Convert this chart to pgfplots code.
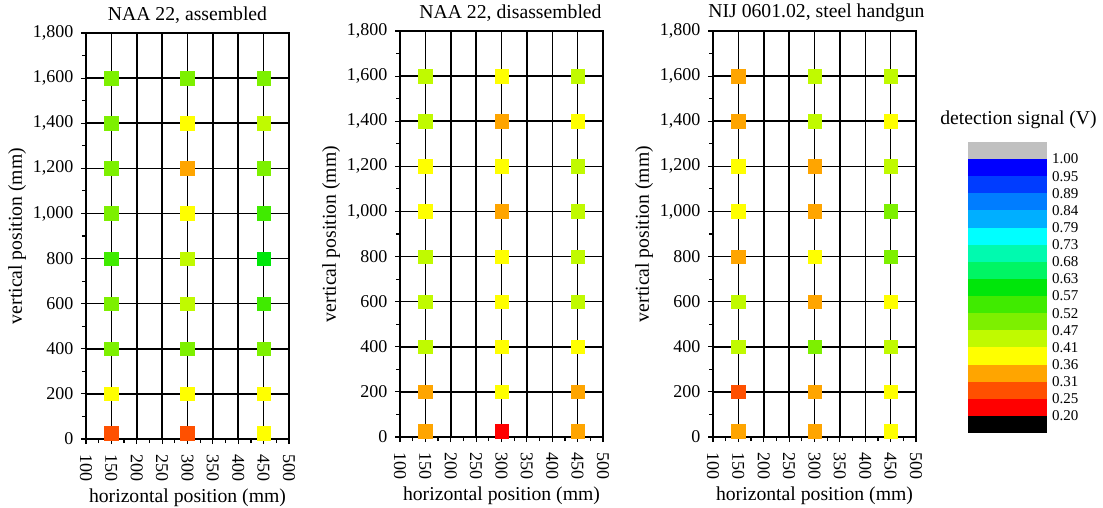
\documentclass[border=0pt]{standalone}
\usepackage{pgfplots}
\pgfplotsset{compat=1.18}
\usepackage{pgfplotstable}
\usepackage{fontspec}
\setmainfont{Liberation Serif}

\definecolor{cBK}{RGB}{0,0,0}
\definecolor{cRD}{RGB}{255,0,0}
\definecolor{cRO}{RGB}{255,80,0}
\definecolor{cOR}{RGB}{255,165,0}
\definecolor{cYE}{RGB}{255,255,0}
\definecolor{cGa}{RGB}{192,250,0}
\definecolor{cGb}{RGB}{125,240,0}
\definecolor{cGc}{RGB}{64,235,0}
\definecolor{cGd}{RGB}{0,230,10}
\definecolor{cGe}{RGB}{0,245,100}
\definecolor{cGf}{RGB}{0,250,175}
\definecolor{cCY}{RGB}{0,255,255}
\definecolor{cBa}{RGB}{0,175,255}
\definecolor{cBb}{RGB}{0,125,255}
\definecolor{cBc}{RGB}{0,60,255}
\definecolor{cBd}{RGB}{0,0,255}
\definecolor{cGY}{RGB}{192,192,192}

\newcommand{\tfont}{\fontsize{18}{20}\selectfont}
\newcommand{\lfont}{\fontsize{19.7}{22}\selectfont}

\pgfplotstableread{
x y c
150 1600 Gb
150 1400 Gb
150 1200 Gb
150 1000 Gb
150 800 Gc
150 600 Gb
150 400 Gb
150 200 YE
150 25 RO
300 1600 Gb
300 1400 YE
300 1200 OR
300 1000 YE
300 800 Ga
300 600 Ga
300 400 Gb
300 200 YE
300 25 RO
450 1600 Gb
450 1400 Ga
450 1200 Gb
450 1000 Gc
450 800 Gd
450 600 Gc
450 400 Gb
450 200 YE
450 25 YE
}\dataA

\pgfplotstableread{
x y c
150 1600 Ga
150 1400 Ga
150 1200 YE
150 1000 YE
150 800 Ga
150 600 Ga
150 400 Ga
150 200 OR
150 25 OR
300 1600 YE
300 1400 OR
300 1200 YE
300 1000 OR
300 800 YE
300 600 YE
300 400 YE
300 200 YE
300 25 RD
450 1600 Ga
450 1400 YE
450 1200 Ga
450 1000 Ga
450 800 Ga
450 600 Ga
450 400 YE
450 200 OR
450 25 OR
}\dataB

\pgfplotstableread{
x y c
150 1600 OR
150 1400 OR
150 1200 YE
150 1000 YE
150 800 OR
150 600 Ga
150 400 Ga
150 200 RO
150 25 OR
300 1600 Ga
300 1400 Ga
300 1200 OR
300 1000 OR
300 800 YE
300 600 OR
300 400 Gb
300 200 OR
300 25 OR
450 1600 Ga
450 1400 YE
450 1200 Ga
450 1000 Gb
450 800 Gb
450 600 YE
450 400 Ga
450 200 YE
450 25 YE
}\dataC

\pgfplotsset{
  panel/.style={
    scale only axis, width=203pt, height=406pt, anchor=south west,
    xmin=100, xmax=500, ymin=0, ymax=1800,
    xtick={100,150,...,500}, ytick={0,200,...,1800},
    minor x tick num=1, minor y tick num=1,
    tick pos=left, tick align=outside,
    major tick length=5pt, minor tick length=4pt,
    grid=major, major grid style={black, line width=1.5pt},
    axis line style={black, line width=1.6pt},
    tick style={black, line width=1.2pt},
    axis on top,
    xticklabel style={yshift=-7pt, rotate=-90, anchor=west},
    yticklabel style={xshift=-4pt},
    tick label style={font=\tfont},
    label style={font=\lfont},
    title style={font=\lfont},
    xlabel={horizontal position (mm)},
    ylabel={vertical position (mm)},
    /pgf/number format/assume math mode=true,
    /pgf/number format/1000 sep={,},
    scatter/classes={
      RD={mark=square*, fill=cRD, draw=cRD},
      RO={mark=square*, fill=cRO, draw=cRO},
      OR={mark=square*, fill=cOR, draw=cOR},
      YE={mark=square*, fill=cYE, draw=cYE},
      Ga={mark=square*, fill=cGa, draw=cGa},
      Gb={mark=square*, fill=cGb, draw=cGb},
      Gc={mark=square*, fill=cGc, draw=cGc},
      Gd={mark=square*, fill=cGd, draw=cGd}
    },
  },
  pts/.style={scatter, only marks, scatter src=explicit symbolic, mark size=6.8pt, mark options={line width=0.4pt}},
}

\begin{document}
\begin{tikzpicture}
\path[use as bounding box] (0,0) rectangle (1103pt,507pt);

\begin{axis}[panel, at={(86pt,68pt)}, title={NAA 22, assembled}]
\addplot[pts] table[x=x, y=y, meta=c] {\dataA};
\end{axis}

\begin{axis}[panel, at={(400pt,70pt)}, title={NAA 22, disassembled}, title style={xshift=9pt}]
\addplot[pts] table[x=x, y=y, meta=c] {\dataB};
\end{axis}

\begin{axis}[panel, at={(713pt,70pt)}, title={NIJ 0601.02, steel handgun}, title style={xshift=2pt}]
\addplot[pts] table[x=x, y=y, meta=c] {\dataC};
\end{axis}

\begin{axis}[at={(968pt,74pt)}, anchor=south west, scale only axis,
  width=79pt, height=291pt, xmin=0, xmax=1, ymin=0, ymax=17,
  axis line style={draw=none}, xtick=\empty,
  ytick={1,2,...,16},
  yticklabels={0.20,0.25,0.31,0.36,0.41,0.47,0.52,0.57,0.63,0.68,0.73,0.79,0.84,0.89,0.95,1.00},
  yticklabel pos=right, major tick length=0pt,
  yticklabel style={font=\fontsize{15}{16}\selectfont, inner sep=2pt, xshift=3pt},
  title={detection signal (V)},
  title style={font=\lfont, xshift=11pt, yshift=4pt}]
\addplot[fill=cBK, draw=none] coordinates {(0,0) (1,0) (1,1) (0,1)} -- cycle;
\addplot[fill=cRD, draw=none] coordinates {(0,1) (1,1) (1,2) (0,2)} -- cycle;
\addplot[fill=cRO, draw=none] coordinates {(0,2) (1,2) (1,3) (0,3)} -- cycle;
\addplot[fill=cOR, draw=none] coordinates {(0,3) (1,3) (1,4) (0,4)} -- cycle;
\addplot[fill=cYE, draw=none] coordinates {(0,4) (1,4) (1,5) (0,5)} -- cycle;
\addplot[fill=cGa, draw=none] coordinates {(0,5) (1,5) (1,6) (0,6)} -- cycle;
\addplot[fill=cGb, draw=none] coordinates {(0,6) (1,6) (1,7) (0,7)} -- cycle;
\addplot[fill=cGc, draw=none] coordinates {(0,7) (1,7) (1,8) (0,8)} -- cycle;
\addplot[fill=cGd, draw=none] coordinates {(0,8) (1,8) (1,9) (0,9)} -- cycle;
\addplot[fill=cGe, draw=none] coordinates {(0,9) (1,9) (1,10) (0,10)} -- cycle;
\addplot[fill=cGf, draw=none] coordinates {(0,10) (1,10) (1,11) (0,11)} -- cycle;
\addplot[fill=cCY, draw=none] coordinates {(0,11) (1,11) (1,12) (0,12)} -- cycle;
\addplot[fill=cBa, draw=none] coordinates {(0,12) (1,12) (1,13) (0,13)} -- cycle;
\addplot[fill=cBb, draw=none] coordinates {(0,13) (1,13) (1,14) (0,14)} -- cycle;
\addplot[fill=cBc, draw=none] coordinates {(0,14) (1,14) (1,15) (0,15)} -- cycle;
\addplot[fill=cBd, draw=none] coordinates {(0,15) (1,15) (1,16) (0,16)} -- cycle;
\addplot[fill=cGY, draw=none] coordinates {(0,16) (1,16) (1,17) (0,17)} -- cycle;
\end{axis}
\end{tikzpicture}
\end{document}
